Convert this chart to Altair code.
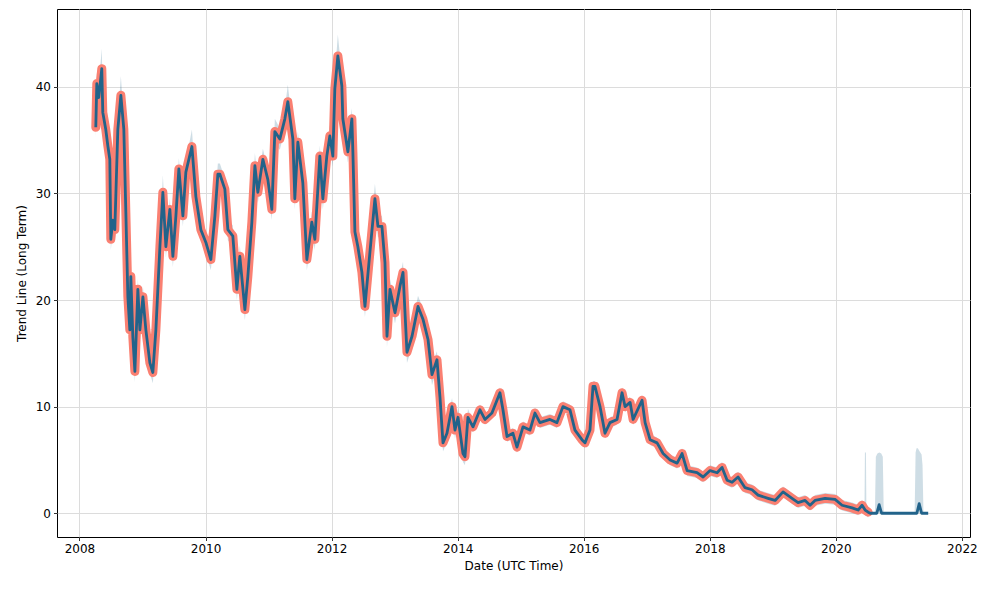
import altair as alt
import pandas as pd

# ---- data (decimal years, values) ----
years = [
    2008.259, 2008.275, 2008.306, 2008.354, 2008.370, 2008.417, 2008.449, 2008.481, 2008.497, 2008.529,
    2008.560, 2008.608, 2008.656, 2008.703, 2008.735, 2008.767, 2008.798, 2008.814, 2008.846, 2008.878,
    2008.925, 2008.957, 2009.005, 2009.052, 2009.116, 2009.163, 2009.211, 2009.275, 2009.322, 2009.370,
    2009.433, 2009.481, 2009.529, 2009.576, 2009.640, 2009.687, 2009.783, 2009.846, 2009.925, 2010.005,
    2010.084, 2010.148, 2010.195, 2010.227, 2010.306, 2010.354, 2010.433, 2010.497, 2010.544, 2010.624,
    2010.671, 2010.735, 2010.783, 2010.830, 2010.910, 2010.989, 2011.052, 2011.100, 2011.179, 2011.259,
    2011.306, 2011.386, 2011.417, 2011.465, 2011.544, 2011.608, 2011.687, 2011.735, 2011.814, 2011.862,
    2011.925, 2011.973, 2012.021, 2012.052, 2012.100, 2012.163, 2012.179, 2012.259, 2012.322, 2012.338,
    2012.370, 2012.417, 2012.481, 2012.529, 2012.608, 2012.687, 2012.735, 2012.798, 2012.846, 2012.878,
    2012.925, 2013.005, 2013.084, 2013.132, 2013.195, 2013.275, 2013.370, 2013.449, 2013.529, 2013.592,
    2013.671, 2013.719, 2013.767, 2013.830, 2013.910, 2013.957, 2014.005, 2014.084, 2014.116, 2014.163,
    2014.243, 2014.354, 2014.433, 2014.544, 2014.671, 2014.719, 2014.783, 2014.878, 2014.941, 2015.037,
    2015.148, 2015.227, 2015.306, 2015.465, 2015.576, 2015.671, 2015.783, 2015.862, 2015.973, 2016.021,
    2016.100, 2016.148, 2016.179, 2016.259, 2016.338, 2016.417, 2016.529, 2016.608, 2016.656, 2016.735,
    2016.783, 2016.925, 2016.973, 2017.052, 2017.163, 2017.259, 2017.370, 2017.481, 2017.560, 2017.640,
    2017.798, 2017.894, 2018.005, 2018.116, 2018.195, 2018.275, 2018.354, 2018.449, 2018.560, 2018.671,
    2018.767, 2018.925, 2019.037, 2019.163, 2019.306, 2019.402, 2019.513, 2019.592, 2019.671, 2019.830,
    2019.989, 2020.100, 2020.259, 2020.354, 2020.417, 2020.465, 2020.513,
]
values = [
    36.2, 40.3, 39.0, 41.7, 37.6, 36.0, 34.5, 33.2, 25.7, 27.5,
    26.6, 36.0, 39.2, 36.0, 28.2, 20.3, 17.2, 22.2, 16.5, 13.3,
    21.0, 17.2, 20.3, 17.2, 14.1, 13.2, 17.2, 25.0, 30.1, 25.0,
    28.5, 24.1, 27.9, 32.3, 27.9, 32.0, 34.4, 29.7, 26.6, 25.4,
    23.8, 27.9, 31.8, 31.8, 30.4, 26.6, 26.0, 21.0, 24.1, 19.1,
    22.2, 27.3, 32.6, 30.1, 33.2, 31.3, 28.5, 35.8, 35.1, 37.0,
    38.6, 35.1, 29.5, 34.8, 31.0, 23.8, 27.3, 25.7, 33.5, 29.5,
    33.5, 35.4, 33.5, 39.8, 42.9, 40.1, 37.0, 33.9, 37.0, 33.9,
    26.4, 25.0, 22.6, 19.4, 24.5, 29.5, 26.9, 26.9, 23.5, 16.6,
    21.0, 18.8, 21.3, 22.6, 15.1, 16.6, 19.4, 18.2, 16.3, 13.0,
    14.4, 10.9, 6.6, 7.5, 10.0, 7.8, 9.0, 5.6, 5.3, 9.0,
    8.1, 9.7, 8.8, 9.4, 11.3, 9.7, 7.2, 7.5, 6.2, 8.1,
    7.8, 9.4, 8.5, 8.8, 8.5, 10.0, 9.7, 7.8, 6.9, 6.6,
    7.8, 11.9, 11.9, 10.0, 7.5, 8.5, 8.8, 11.3, 10.0, 10.4,
    8.8, 10.6, 8.5, 6.9, 6.6, 5.6, 5.0, 4.7, 5.6, 4.0,
    3.8, 3.4, 4.0, 3.8, 4.3, 3.1, 2.9, 3.4, 2.4, 2.2,
    1.7, 1.4, 1.2, 2.0, 1.4, 1.0, 1.2, 0.75, 1.2, 1.4,
    1.3, 0.75, 0.5, 0.3, 0.75, 0.3, 0.1,
]
band_pad = [
    1.0, 1.0, 1.2, 1.9, 1.0, 1.0, 1.0, 1.0, 1.0, 1.0,
    1.0, 1.0, 1.8, 1.0, 1.0, 1.0, 1.0, 1.0, 1.0, 1.0,
    1.0, 1.0, 1.0, 1.0, 1.0, 1.0, 1.0, 1.0, 1.6, 1.0,
    1.0, 1.0, 1.0, 1.0, 1.0, 1.0, 1.6, 1.0, 1.0, 1.0,
    1.0, 1.0, 1.0, 1.0, 1.0, 1.0, 1.0, 1.0, 1.0, 1.0,
    1.0, 1.0, 1.2, 1.0, 1.0, 1.0, 1.0, 1.2, 1.0, 1.0,
    1.6, 1.0, 1.0, 1.0, 1.0, 1.0, 1.0, 1.0, 1.0, 1.0,
    1.0, 1.0, 1.0, 1.2, 2.0, 1.0, 1.0, 1.0, 1.0, 1.0,
    1.0, 1.0, 1.0, 1.0, 1.0, 1.4, 1.0, 1.0, 1.0, 1.0,
    1.0, 1.0, 1.0, 1.0, 1.0, 1.0, 1.0, 1.0, 1.0, 1.0,
    0.8, 0.8, 0.8, 0.8, 0.8, 0.8, 0.8, 0.8, 0.8, 0.8,
    0.5, 0.5, 0.5, 0.5, 0.5, 0.5, 0.5, 0.5, 0.5, 0.5,
    0.5, 0.5, 0.5, 0.5, 0.5, 0.5, 0.5, 0.5, 0.5, 0.5,
    0.5, 0.5, 0.5, 0.5, 0.5, 0.5, 0.5, 0.5, 0.5, 0.5,
    0.5, 0.5, 0.5, 0.5, 0.5, 0.5, 0.5, 0.5, 0.5, 0.5,
    0.5, 0.5, 0.5, 0.5, 0.5, 0.5, 0.5, 0.5, 0.5, 0.5,
    0.5, 0.5, 0.5, 0.5, 0.5, 0.5, 0.5, 0.5, 0.5, 0.5,
    0.5, 0.5, 0.5, 0.5, 0.5, 0.5, 0.5,
]
# trend continuation after the observed data ends
fc_line_years = [2020.545, 2020.650, 2020.687, 2020.725, 2021.285, 2021.322, 2021.360, 2021.465]
fc_line_vals = [0.0, 0.0, 0.8, 0.0, 0.0, 0.9, 0.0, 0.0]
# uncertainty spikes in the future part
fc_band_years = [2020.455, 2020.462, 2020.478, 2020.485, 2020.620, 2020.635, 2020.660, 2020.690,
                 2020.720, 2020.745, 2020.760, 2021.250, 2021.265, 2021.280, 2021.300, 2021.330,
                 2021.360, 2021.375, 2021.390]
fc_band_hi = [0.3, 5.7, 5.7, 0.3, 0.0, 5.3, 5.6, 5.7, 5.6, 5.3, 0.0, 0.0, 5.7, 6.1, 6.1, 5.8, 5.5, 4.5, 0.0]
fc_band_lo = [0.0, 0.0, 0.0, 0.0, 0.0, 0.0, 0.0, 0.0, 0.0, 0.0, 0.0, 0.0, 0.0, 0.0, 0.0, 0.0, 0.0, 0.0, 0.0]


def to_ts(y):
    yr = int(y)
    start = pd.Timestamp(year=yr, month=1, day=1)
    ndays = (pd.Timestamp(year=yr + 1, month=1, day=1) - start).days
    return (start + pd.Timedelta(days=(y - yr) * ndays)).strftime("%Y-%m-%dT%H:%M:%S")


main = pd.DataFrame({
    "ds": [to_ts(y) for y in years],
    "v": values,
    "lo": [v - p for v, p in zip(values, band_pad)],
    "hi": [v + p for v, p in zip(values, band_pad)],
})
trend = pd.DataFrame({
    "ds": [to_ts(y) for y in years + fc_line_years],
    "v": values + fc_line_vals,
})
fcband = pd.DataFrame({
    "ds": [to_ts(y) for y in fc_band_years],
    "lo": fc_band_lo,
    "hi": fc_band_hi,
})

LINE = "#22638a"
SALMON = "#fa8072"

xscale = alt.Scale(domain=[alt.DateTime(year=2007, month=8, date=24),
                           alt.DateTime(year=2022, month=2, date=17)])
yscale = alt.Scale(domain=[-2.23, 47.3], nice=False, zero=False)

xaxis = alt.Axis(values=[alt.DateTime(year=y, month=1, date=1) for y in range(2008, 2023, 2)],
                 format="%Y", title="Date (UTC Time)", labelOverlap=False, labelFlush=False)
yaxis = alt.Axis(values=[0, 10, 20, 30, 40], title="Trend Line (Long Term)")

x = alt.X("ds:T", scale=xscale, axis=xaxis)
y_enc = alt.Y("v:Q", scale=yscale, axis=yaxis)

band1 = alt.Chart(main).mark_area(color=LINE, opacity=0.22).encode(
    x=x, y=alt.Y("lo:Q", scale=yscale, axis=yaxis), y2="hi:Q")
band2 = alt.Chart(fcband).mark_area(color=LINE, opacity=0.22).encode(
    x=x, y=alt.Y("lo:Q", scale=yscale, axis=yaxis), y2="hi:Q")
actual = alt.Chart(main).mark_line(color=SALMON, strokeWidth=9, strokeJoin="round",
                                   strokeCap="round").encode(x=x, y=y_enc)
trend_line = alt.Chart(trend).mark_line(color=LINE, strokeWidth=2.8, strokeJoin="round").encode(
    x=x, y=y_enc)

chart = alt.layer(band1, band2, actual, trend_line).properties(
    width=913, height=528,
    autosize=alt.AutoSizeParams(type="none"),
    padding={"left": 57, "top": 9, "right": 18, "bottom": 53},
    background="white",
).configure_view(
    stroke="black", strokeWidth=1
).configure_axis(
    domain=False,
    grid=True, gridColor="#dcdcdc", gridWidth=1,
    tickColor="black", tickSize=3.5, tickWidth=0.8,
    labelFont="DejaVu Sans", labelFontSize=12, labelColor="black", labelPadding=3,
    titleFont="DejaVu Sans", titleFontSize=12, titleFontWeight="normal", titleColor="black",
).configure_axisX(titlePadding=6).configure_axisY(titlePadding=7)

chart.save("out.html", embed_options={"renderer": "svg", "actions": False})
